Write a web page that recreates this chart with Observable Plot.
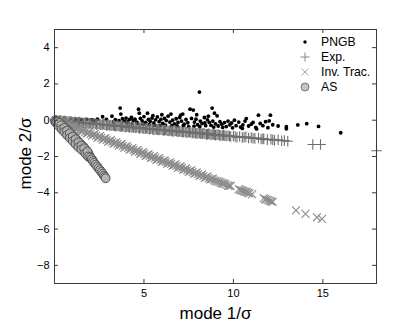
<!DOCTYPE html>
<html>
<head>
<meta charset="utf-8">
<script src="https://cdn.jsdelivr.net/npm/d3@7"></script>
<script src="https://cdn.jsdelivr.net/npm/@observablehq/plot@0.6"></script>
<style>
  html, body { margin: 0; padding: 0; background: #fff; }
  #wrap { position: relative; width: 415px; height: 324px; font-family: "Liberation Sans", Arial, Helvetica, sans-serif; }
  #legend { position: absolute; left: 297px; top: 34px; font-size: 12.2px; color: #000; }
  #legend .row { display: flex; align-items: center; height: 15.2px; }
  #legend svg { width: 16px; height: 14px; margin-right: 8px; }
</style>
</head>
<body>
<div id="wrap"></div>
<script>
const seriesNames = ["PNGB", "Exp.", "Inv. Trac.", "AS"];
const xTicks = [5, 10, 15];
const yTicks = [-8, -6, -4, -2, 0, 2, 4];
const xLabel = "mode 1/σ";
const yLabel = "mode 2/σ";

const pngb = [[0.3,0.02],[0.6,0.03],[0.9,0.0],[1.2,0.04],[1.5,0.02],[1.8,0.05],[2.1,0.03],[2.2,-0.03],[2.4,0.06],[2.69,0.19],[2.9,0.05],[3.21,0.22],[3.3,-0.08],[3.4,0.03],[3.6,-0.02],[3.71,0.34],[3.67,0.67],[3.8,0.08],[3.9,-0.05],[4.0,0.12],[4.05,-0.15],[4.1,-0.08],[4.2,0.05],[4.3,0.15],[4.35,-0.2],[4.4,-0.03],[4.5,0.06],[4.6,-0.1],[4.65,-0.18],[4.7,0.61],[4.74,0.39],[4.8,0.1],[4.9,-0.04],[4.95,-0.22],[5.0,0.2],[5.1,-0.12],[5.2,0.39],[5.25,0.05],[5.3,-0.25],[5.35,-0.06],[5.45,0.12],[5.5,0.25],[5.55,-0.15],[5.6,-0.28],[5.65,0.02],[5.75,0.18],[5.85,-0.08],[5.9,-0.3],[5.95,0.05],[6.0,0.3],[6.05,-0.18],[6.15,0.1],[6.2,-0.27],[6.25,-0.02],[6.35,0.22],[6.45,-0.1],[6.51,0.34],[6.55,-0.3],[6.6,0.0],[6.7,-0.2],[6.8,0.08],[6.85,-0.32],[6.9,-0.12],[7.0,0.15],[7.05,0.28],[7.1,-0.05],[7.17,0.34],[7.2,-0.3],[7.25,-0.22],[7.35,0.04],[7.45,-0.14],[7.5,-0.35],[7.58,0.61],[7.66,0.1],[7.76,0.56],[7.8,-0.33],[7.82,-0.1],[7.91,0.06],[7.95,0.3],[8.0,-0.25],[8.1,1.55],[8.12,-0.36],[8.15,-0.05],[8.25,-0.18],[8.38,0.15],[8.4,-0.15],[8.45,-0.3],[8.55,0.02],[8.6,0.22],[8.65,-0.12],[8.75,-0.28],[8.81,0.67],[8.85,-0.05],[8.9,-0.38],[8.94,0.39],[9.0,-0.2],[9.09,0.24],[9.15,-0.32],[9.25,-0.08],[9.35,-0.22],[9.4,-0.4],[9.5,-0.13],[9.6,-0.35],[9.7,-0.05],[9.8,-0.25],[9.9,-0.15],[9.95,-0.42],[10.06,0.0],[10.15,-0.3],[10.3,-0.1],[10.4,-0.38],[10.5,-0.45],[10.53,-0.26],[10.65,-0.05],[10.72,0.09],[10.85,-0.32],[11.0,-0.22],[11.1,-0.12],[11.25,-0.4],[11.3,-0.48],[11.4,0.28],[11.5,-0.18],[11.65,-0.3],[11.8,-0.08],[11.93,-0.41],[12.0,-0.04],[12.07,0.28],[12.2,-0.25],[12.5,-0.32],[12.96,-0.36],[12.96,-0.47],[13.6,-0.26],[14.1,-0.19],[14.76,-0.34],[16.0,-0.69]];

const expo = [[0.1,-0.01],[0.2,-0.03],[0.35,-0.02],[0.5,-0.06],[0.6,-0.04],[0.75,-0.08],[0.9,-0.07],[1.0,-0.11],[1.15,-0.09],[1.3,-0.13],[1.4,-0.1],[1.55,-0.15],[1.7,-0.14],[1.8,-0.18],[1.95,-0.16],[2.1,-0.2],[2.2,-0.17],[2.35,-0.23],[2.5,-0.21],[2.6,-0.25],[2.75,-0.22],[2.9,-0.28],[3.0,-0.26],[3.15,-0.3],[3.3,-0.27],[3.4,-0.33],[3.55,-0.3],[3.7,-0.35],[3.8,-0.32],[3.95,-0.38],[4.1,-0.34],[4.2,-0.4],[4.35,-0.37],[4.5,-0.42],[4.6,-0.39],[4.75,-0.45],[4.9,-0.41],[5.0,-0.47],[5.15,-0.44],[5.3,-0.5],[5.4,-0.46],[5.55,-0.52],[5.7,-0.48],[5.8,-0.54],[5.95,-0.51],[6.1,-0.56],[6.2,-0.53],[6.35,-0.59],[6.5,-0.55],[6.6,-0.61],[6.75,-0.58],[6.9,-0.63],[7.0,-0.6],[7.15,-0.66],[7.3,-0.62],[7.4,-0.68],[7.55,-0.65],[7.7,-0.7],[7.8,-0.67],[7.95,-0.73],[8.1,-0.7],[8.2,-0.75],[8.35,-0.72],[8.5,-0.78],[8.6,-0.74],[8.75,-0.8],[8.9,-0.77],[9.0,-0.82],[9.15,-0.79],[9.3,-0.85],[9.45,-0.82],[9.6,-0.87],[9.7,-0.84],[9.85,-0.9],[10.0,-0.87],[10.2,-0.93],[10.35,-0.9],[10.5,-0.95],[10.7,-0.92],[10.85,-0.98],[11.0,-0.96],[11.2,-1.0],[11.4,-0.98],[11.55,-1.04],[11.7,-1.02],[11.9,-1.07],[12.1,-1.05],[12.3,-1.1],[12.5,-1.08],[12.7,-1.13],[12.85,-1.12],[13.04,-1.16],[14.44,-1.34],[14.87,-1.34],[18.0,-1.68],
[0.05,0.0],[0.28,-0.02],[0.42,-0.05],[0.55,-0.04],[0.68,-0.07],[0.82,-0.06],[0.95,-0.09],[1.08,-0.1],[1.22,-0.11],[1.35,-0.12],[1.48,-0.13],[1.62,-0.15],[1.75,-0.16],[1.88,-0.17],[2.02,-0.18],[2.15,-0.19],[2.28,-0.2],[2.42,-0.22],[2.55,-0.23],[2.68,-0.24],[2.82,-0.25],[2.95,-0.27],[3.08,-0.28],[3.22,-0.29],[3.35,-0.3],[3.48,-0.31],[3.62,-0.33],[3.75,-0.34],[3.88,-0.35],[4.02,-0.36],[4.15,-0.37],[4.28,-0.39],[4.42,-0.4],[4.55,-0.41],[4.68,-0.42],[4.82,-0.43],[4.95,-0.45],[5.08,-0.46],[5.22,-0.47],[5.35,-0.48],[5.48,-0.49],[5.62,-0.51],[5.75,-0.52],[5.88,-0.53],[6.02,-0.54],[6.15,-0.55],[6.28,-0.57],[6.42,-0.58],[6.55,-0.59],[6.68,-0.6],[6.82,-0.61],[6.95,-0.62],[7.08,-0.64],[7.22,-0.65],[7.35,-0.66],[7.48,-0.67],[7.62,-0.68],[7.75,-0.7],[7.88,-0.71],[8.02,-0.72],[8.15,-0.73],[8.28,-0.74],[8.42,-0.76],[8.55,-0.77],[8.68,-0.78],[8.82,-0.79],[8.95,-0.8],[9.08,-0.81],[9.22,-0.83],[9.38,-0.84],[9.52,-0.85],[9.78,-0.88],[10.1,-0.9],[10.6,-0.94],[11.1,-0.99],[11.65,-1.03],[12.2,-1.08]];

const invTrac = [[0.15,-0.03],[0.3,-0.15],[0.45,-0.12],[0.6,-0.29],[0.75,-0.22],[0.9,-0.4],[1.05,-0.32],[1.2,-0.51],[1.35,-0.43],[1.5,-0.62],[1.65,-0.54],[1.8,-0.73],[1.95,-0.65],[2.1,-0.85],[2.25,-0.76],[2.4,-0.96],[2.55,-0.87],[2.7,-1.07],[2.85,-0.98],[3.0,-1.18],[3.15,-1.1],[3.3,-1.29],[3.45,-1.21],[3.6,-1.4],[3.75,-1.32],[3.9,-1.51],[4.05,-1.43],[4.2,-1.62],[4.35,-1.54],[4.5,-1.74],[4.65,-1.65],[4.8,-1.85],[4.95,-1.76],[5.1,-1.96],[5.25,-1.87],[5.4,-2.07],[5.55,-1.98],[5.7,-2.18],[5.85,-2.09],[6.0,-2.29],[6.15,-2.21],[6.3,-2.4],[6.45,-2.32],[6.6,-2.51],[6.75,-2.43],[6.9,-2.62],[7.05,-2.54],[7.2,-2.73],[7.35,-2.65],[7.5,-2.84],[7.65,-2.76],[7.8,-2.96],[7.95,-2.87],[8.1,-3.07],[8.25,-2.98],[8.4,-3.18],[8.55,-3.1],[8.7,-3.26],[8.85,-3.22],[9.0,-3.36],[9.2,-3.38],[9.35,-3.47],[9.5,-3.5],[9.7,-3.6],[9.85,-3.62],[10.3,-3.8],[10.45,-3.85],[10.6,-3.92],[10.75,-3.95],[10.9,-4.03],[11.05,-4.07],[11.7,-4.3],[11.85,-4.37],[11.95,-4.4],[12.05,-4.44],[12.2,-4.5],[13.5,-4.97],[14.03,-5.16],[14.67,-5.35],[14.95,-5.44],
[0.08,-0.02],[0.22,-0.09],[0.38,-0.13],[0.52,-0.2],[0.68,-0.24],[0.82,-0.31],[0.98,-0.36],[1.12,-0.42],[1.28,-0.47],[1.42,-0.53],[1.58,-0.58],[1.72,-0.64],[1.88,-0.7],[2.02,-0.75],[2.18,-0.8],[2.32,-0.86],[2.48,-0.92],[2.62,-0.97],[2.78,-1.03],[2.92,-1.08],[3.08,-1.14],[3.22,-1.19],[3.38,-1.25],[3.52,-1.3],[3.68,-1.36],[3.82,-1.41],[3.98,-1.47],[4.12,-1.52],[4.28,-1.58],[4.42,-1.64],[4.58,-1.69],[4.72,-1.75],[4.88,-1.8],[5.02,-1.86],[5.18,-1.92],[5.32,-1.97],[5.48,-2.03],[5.62,-2.08],[5.78,-2.14],[5.92,-2.19],[6.08,-2.25],[6.22,-2.3],[6.38,-2.36],[6.52,-2.41],[6.68,-2.47],[6.82,-2.52],[6.98,-2.58],[7.12,-2.63],[7.28,-2.69],[7.42,-2.75],[7.58,-2.8],[7.72,-2.86],[7.88,-2.92],[8.02,-2.97],[8.18,-3.03],[8.32,-3.08],[8.48,-3.14],[8.62,-3.19],[8.78,-3.25],[8.92,-3.3],[9.1,-3.37],[9.28,-3.43],[9.42,-3.49],[9.6,-3.55],[9.78,-3.62],[10.38,-3.84],[10.52,-3.89],[10.68,-3.95],[10.82,-4.0],[11.78,-4.36],[12.12,-4.48]];

const as = [[0.02,-0.01],[0.1,-0.05],[0.12,-0.15],[0.25,-0.2],[0.3,-0.3],[0.42,-0.35],[0.45,-0.47],[0.58,-0.5],[0.6,-0.62],[0.74,-0.65],[0.76,-0.78],[0.9,-0.82],[0.92,-0.95],[1.06,-0.98],[1.08,-1.12],[1.22,-1.15],[1.24,-1.28],[1.38,-1.32],[1.4,-1.45],[1.54,-1.48],[1.56,-1.62],[1.68,-1.65],[1.7,-1.77],[1.8,-1.8],[1.85,-1.92],[1.95,-1.95],
[0.05,-0.1],[0.18,-0.05],[0.2,-0.25],[0.35,-0.18],[0.36,-0.4],[0.5,-0.32],[0.52,-0.56],[0.66,-0.48],[0.68,-0.72],[0.82,-0.62],[0.84,-0.88],[0.98,-0.8],[1.0,-1.05],[1.14,-0.95],[1.16,-1.22],[1.3,-1.12],[1.32,-1.38],[1.46,-1.3],[1.48,-1.55],[1.62,-1.45],[1.64,-1.72],[1.76,-1.62],[1.78,-1.88],[1.9,-1.82],[1.92,-2.02],
[0.08,-0.12],[0.15,-0.1],[0.22,-0.3],[0.28,-0.15],[0.38,-0.28],[0.4,-0.5],[0.55,-0.42],[0.55,-0.65],[0.7,-0.58],[0.7,-0.82],[0.86,-0.72],[0.86,-0.98],[1.02,-0.9],[1.02,-1.15],[1.18,-1.05],[1.18,-1.32],[1.34,-1.22],[1.34,-1.48],[1.5,-1.4],[1.5,-1.62],[1.66,-1.55],[1.72,-1.82],[1.84,-1.72],[1.88,-2.0],[2.05,-2.1],[2.12,-2.2],
[2.0,-2.05],[2.08,-2.15],[2.15,-2.25],[2.22,-2.35],[2.3,-2.45],[2.38,-2.55],[2.46,-2.65],[2.54,-2.75],[2.62,-2.85],[2.7,-2.95],[2.76,-3.05],[2.82,-3.13],[2.86,-3.2]];

const W = 415, H = 324, mL = 54, mR = 39, mT = 29, mB = 41;
const fw = W - mL - mR, fh = H - mT - mB;
const fmt = d => d < 0 ? "\u2212" + Math.abs(d) : String(d);
const frameColor = "#3a3a3a";

const chart = Plot.plot({
  width: W, height: H,
  marginLeft: mL, marginRight: mR, marginTop: mT, marginBottom: mB,
  x: {domain: [0, 18]},
  y: {domain: [-9, 5]},
  style: {fontFamily: "'Liberation Sans', Arial, Helvetica, sans-serif", fontSize: "11px", background: "#fff", color: "#000"},
  marks: [
    Plot.dot(pngb, {x: d => d[0], y: d => d[1], r: 1.9, fill: "#000", stroke: "none"}),
    Plot.dot(expo, {x: d => d[0], y: d => d[1], symbol: "plus", r: 3.5, stroke: "#6e6e6e", strokeWidth: 1.1}),
    Plot.dot(invTrac, {x: d => d[0], y: d => d[1], symbol: "times", r: 3.7, stroke: "#8c8c8c", strokeWidth: 1.1}),
    Plot.dot(as, {x: d => d[0], y: d => d[1], r: 4.4, fill: "#b8b8b8", fillOpacity: 0.7, stroke: "#555", strokeWidth: 1}),
    Plot.frame({stroke: frameColor, strokeWidth: 1}),
    Plot.ruleX(xTicks, {x: d => d, insetTop: fh - 4, stroke: frameColor}),
    Plot.ruleX(xTicks, {x: d => d, insetBottom: fh - 4, stroke: frameColor}),
    Plot.ruleY(yTicks, {y: d => d, insetRight: fw - 4, stroke: frameColor}),
    Plot.ruleY(yTicks, {y: d => d, insetLeft: fw - 4, stroke: frameColor}),
    Plot.axisX(xTicks, {tickSize: 0, tickPadding: 6, label: null, tickFormat: fmt, fontSize: 11}),
    Plot.axisY(yTicks, {tickSize: 0, tickPadding: 5, label: null, tickFormat: fmt, fontSize: 11}),
    Plot.text([xLabel], {frameAnchor: "bottom", lineAnchor: "middle", textAnchor: "middle", dy: 30, fontSize: 17, fill: "#000"}),
    Plot.text([yLabel], {frameAnchor: "left", lineAnchor: "middle", textAnchor: "middle", dx: -29, dy: -3, rotate: -90, fontSize: 17, fill: "#000"})
  ]
});

const wrap = document.getElementById("wrap");
wrap.appendChild(chart);

const legend = document.createElement("div");
legend.id = "legend";
const symbols = [
  '<circle cx="8" cy="7" r="1.7" fill="#000"/>',
  '<path d="M3.5,7H12.5M8,2.5V11.5" stroke="#888" stroke-width="1" fill="none"/>',
  '<path d="M4.5,3.5L11.5,10.5M11.5,3.5L4.5,10.5" stroke="#aaa" stroke-width="1" fill="none"/>',
  '<circle cx="8" cy="7" r="4" fill="#c4c4c4" stroke="#777" stroke-width="1"/>'
];
seriesNames.forEach((name, i) => {
  const row = document.createElement("div");
  row.className = "row";
  row.innerHTML = '<svg viewBox="0 0 16 14">' + symbols[i] + '</svg><span>' + name + '</span>';
  legend.appendChild(row);
});
wrap.appendChild(legend);
</script>
</body>
</html>
